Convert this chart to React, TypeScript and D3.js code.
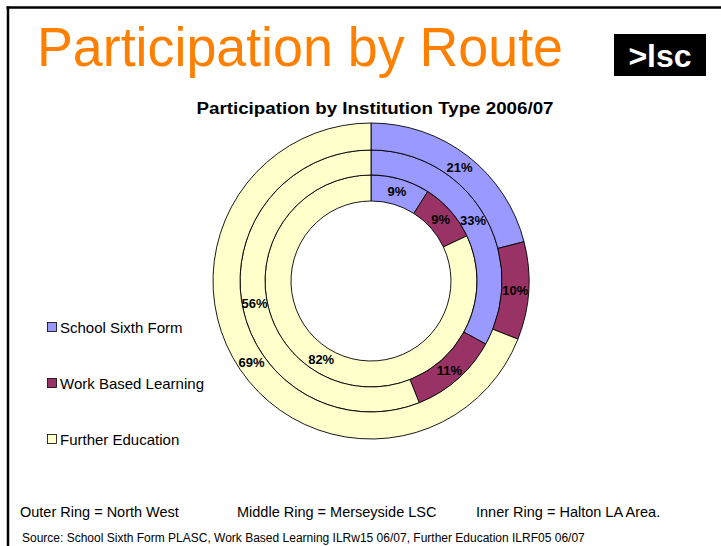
import React from "react";
import * as d3 from "d3";

const categories = ["School Sixth Form", "Work Based Learning", "Further Education"];
const colors = ["#9999FF", "#993366", "#FFFFCC"];
// rings from inner to outer
const ringNames = ["Halton LA Area", "Merseyside LSC", "North West"];
const haltonValues = [9, 9, 82];
const merseysideValues = [33, 11, 56];
const northWestValues = [21, 10, 69];
const ringValues = [haltonValues, merseysideValues, northWestValues];
const footerLabels = ["Outer Ring = North West", "Middle Ring = Merseyside LSC", "Inner Ring = Halton LA Area."];
const sourceText =
  "Source: School Sixth Form PLASC, Work Based Learning ILRw15 06/07, Further Education ILRF05 06/07";

const W = 721;
const H = 546;
const FONT = "'Liberation Sans', Arial, Helvetica, sans-serif";

export default function App() {
  const cx = 371;
  const cy = 281;
  const radii = [80, 106, 131, 158];
  const pie = d3
    .pie<number>()
    .sort(null)
    .value((d) => d)
    .startAngle(0)
    .endAngle(2 * Math.PI);

  const legendY = d3.scalePoint<string>().domain(categories).range([328, 440]);
  const footerX = [20, 237, 476];

  return (
    <svg
      width={W}
      height={H}
      viewBox={`0 0 ${W} ${H}`}
      style={{ position: "absolute", left: 0, top: 0, background: "#fff" }}
    >
      <rect x={0} y={0} width={W} height={H} fill="#fff" />
      {/* frame */}
      <line x1={6.5} y1={7.5} x2={W} y2={7.5} stroke="#000" strokeWidth={2.5} />
      <line x1={8} y1={6.5} x2={8} y2={H} stroke="#000" strokeWidth={2.5} />

      {/* title */}
      <text x={37} y={66} fontFamily={FONT} fontSize={55} fill="#FF8000" textLength={526} lengthAdjust="spacingAndGlyphs">
        Participation by Route
      </text>

      {/* logo */}
      <rect x={614} y={34} width={92} height={42} fill="#000" />
      <text x={660} y={67} fontFamily={FONT} fontWeight="bold" fontSize={32} fill="#fff" textAnchor="middle">
        {">lsc"}
      </text>

      {/* chart title */}
      <text
        x={375}
        y={114}
        fontFamily={FONT}
        fontWeight="bold"
        fontSize={16}
        fill="#000"
        textAnchor="middle"
        textLength={357}
        lengthAdjust="spacingAndGlyphs"
      >
        Participation by Institution Type 2006/07
      </text>

      {/* rings */}
      <g transform={`translate(${cx},${cy})`}>
        {ringValues.map((vals, ri) => {
          const arc = d3.arc<d3.PieArcDatum<number>>().innerRadius(radii[ri]).outerRadius(radii[ri + 1]);
          const arcs = pie(vals);
          return (
            <g key={ringNames[ri]}>
              {arcs.map((a, i) => (
                <path key={i} d={arc(a) || ""} fill={colors[i]} stroke="#000" strokeWidth={0.9} />
              ))}
            </g>
          );
        })}
        {ringValues.map((vals, ri) => {
          const arc = d3.arc<d3.PieArcDatum<number>>().innerRadius(radii[ri]).outerRadius(radii[ri + 1]);
          const arcs = pie(vals);
          return (
            <g key={"l" + ringNames[ri]}>
              {arcs.map((a, i) => {
                const [x, y] = arc.centroid(a);
                return (
                  <text
                    key={i}
                    x={x}
                    y={y}
                    dy="0.36em"
                    textAnchor="middle"
                    fontFamily={FONT}
                    fontWeight="bold"
                    fontSize={13}
                    fill="#000"
                  >
                    {`${vals[i]}%`}
                  </text>
                );
              })}
            </g>
          );
        })}
      </g>

      {/* legend */}
      {categories.map((c, i) => {
        const y = legendY(c) as number;
        return (
          <g key={c}>
            <rect x={47.5} y={y - 5.5} width={9} height={9} fill={colors[i]} stroke="#000" strokeWidth={0.8} />
            <text x={60} y={y + 5} fontFamily={FONT} fontSize={15} fill="#000">
              {c}
            </text>
          </g>
        );
      })}

      {/* footer */}
      {footerLabels.map((t, i) => (
        <text key={t} x={footerX[i]} y={517} fontFamily={FONT} fontSize={14.5} fill="#000">
          {t}
        </text>
      ))}
      <text x={22} y={542} fontFamily={FONT} fontSize={12} fill="#000">
        {sourceText}
      </text>
    </svg>
  );
}
